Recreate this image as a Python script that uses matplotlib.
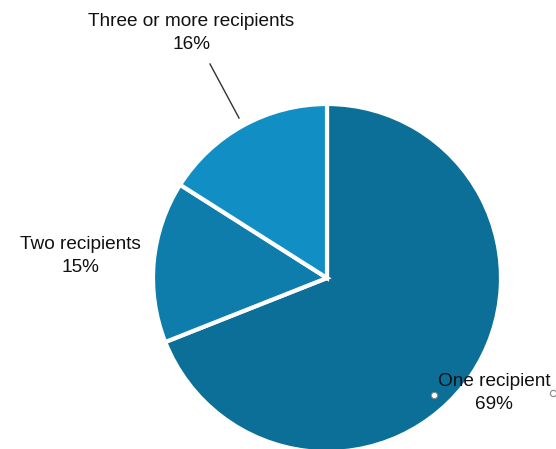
import matplotlib.pyplot as plt

labels = ["One recipient", "Two recipients", "Three or more recipients"]
shares = [69, 15, 16]
colors = ["#0b6f98", "#0e7dab", "#118fc4"]

W, H = 556, 449
fig = plt.figure(figsize=(W / 100, H / 100), dpi=100)
ax = fig.add_axes([0, 0, 1, 1])

cx, cy, r = 327, H - 278, 174
ax.pie(shares, colors=colors, startangle=90, counterclock=False,
       center=(cx, cy), radius=r, frame=True,
       wedgeprops=dict(edgecolor="white", linewidth=3))
ax.set_xlim(0, W)
ax.set_ylim(0, H)
ax.set_aspect("equal")
ax.axis("off")

font = dict(family="Liberation Sans", fontsize=13.7, color="#111111",
            ha="center", va="center", linespacing=1.4)
ax.text(494, H - 393, f"{labels[0]}\n{shares[0]}%", **font)
ax.text(80, H - 256, f"{labels[1]}\n{shares[1]}%", **font)
ax.text(191, H - 33, f"{labels[2]}\n{shares[2]}%", **font)

# leader line for the small slice
ax.plot([210, 239], [H - 64, H - 118], color="#333333", lw=1)
# small handle markers near the big label
ax.plot([434, 553], [H - 395, H - 393], ls="none", marker="o", ms=4.5,
        mfc="white", mec="#888888", mew=0.8)

fig.savefig("out.png", dpi=100)
